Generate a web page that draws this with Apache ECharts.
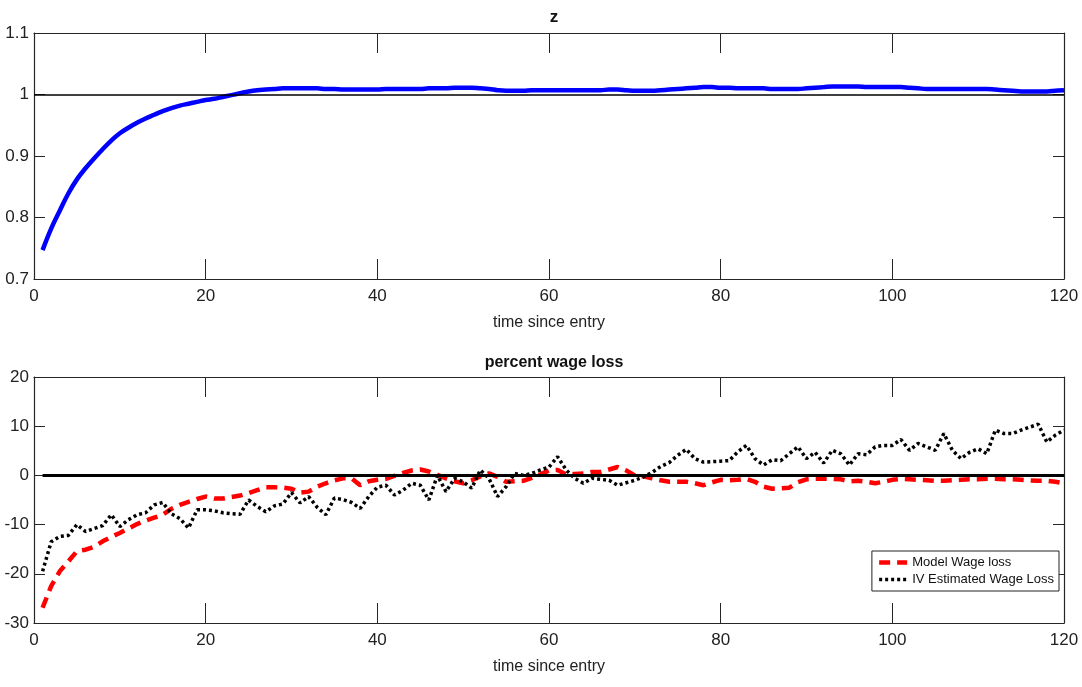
<!DOCTYPE html>
<html>
<head>
<meta charset="utf-8">
<script src="https://cdn.jsdelivr.net/npm/echarts@6/dist/echarts.min.js"></script>
<style>
html,body{margin:0;padding:0;background:#fff;}
#chart{width:1082px;height:687px;}
</style>
</head>
<body>
<div id="chart"></div>
<script>
// ---- data ----
var periods = [];
for (var i = 1; i <= 120; i++) periods.push(i);

var zValues = [
0.747,0.782,0.811,0.839,0.862,0.880,0.896,0.911,0.925,0.937,
0.946,0.954,0.961,0.967,0.973,0.978,0.982,0.985,0.988,0.991,
0.993,0.996,0.999,1.002,1.005,1.007,1.008,1.009,1.010,1.010,
1.010,1.010,1.010,1.009,1.009,1.008,1.008,1.008,1.008,1.008,
1.009,1.009,1.009,1.009,1.009,1.010,1.010,1.010,1.011,1.011,
1.011,1.010,1.009,1.007,1.006,1.006,1.006,1.007,1.007,1.007,
1.007,1.007,1.007,1.007,1.007,1.007,1.008,1.008,1.007,1.006,
1.006,1.006,1.007,1.008,1.009,1.010,1.011,1.012,1.012,1.011,
1.011,1.010,1.010,1.010,1.010,1.009,1.009,1.009,1.009,1.010,
1.011,1.012,1.013,1.013,1.013,1.013,1.012,1.012,1.012,1.012,
1.012,1.011,1.010,1.009,1.009,1.009,1.009,1.009,1.009,1.009,
1.009,1.008,1.007,1.006,1.005,1.005,1.005,1.005,1.006,1.007
];

var modelWageLoss = [
-26.9,-22.5,-19.5,-17.5,-15.4,-15.1,-14.5,-13.4,-12.5,-11.7,
-10.8,-9.9,-9.2,-8.6,-8.0,-6.8,-6.0,-5.4,-4.8,-4.3,
-4.7,-4.7,-4.4,-4.1,-3.6,-3.0,-2.4,-2.4,-2.5,-2.7,
-3.5,-3.3,-2.3,-1.6,-1.0,-0.6,-0.6,-2.0,-1.2,-0.9,
-0.7,-0.1,0.5,1.0,1.2,0.8,0.1,-0.6,-1.2,-1.6,
-1.0,-0.2,0.4,-0.3,-1.3,-1.2,-1.1,-0.5,0.2,1.0,
1.1,0.2,0.3,0.4,0.7,0.7,1.2,1.7,1.0,0.0,
-0.2,-0.6,-1.0,-1.3,-1.3,-1.3,-1.6,-2.0,-1.4,-0.9,
-1.0,-0.9,-0.7,-1.3,-2.3,-2.7,-2.6,-2.5,-1.4,-0.8,
-0.7,-0.7,-0.7,-0.8,-1.2,-1.1,-1.3,-1.6,-1.3,-0.9,
-0.7,-0.8,-0.9,-1.0,-1.1,-1.1,-1.0,-0.9,-0.8,-0.8,
-0.7,-0.7,-0.8,-0.8,-0.9,-1.0,-1.1,-1.1,-1.3,-1.6
];

var ivWageLoss = [
-19.5,-13.5,-12.4,-12.2,-10.0,-11.4,-10.8,-10.2,-8.0,-10.4,
-9.0,-8.0,-7.6,-6.0,-5.5,-7.8,-8.8,-10.7,-7.0,-7.0,
-7.2,-7.6,-7.8,-7.9,-5.0,-6.3,-7.4,-6.2,-5.8,-3.5,
-5.6,-4.3,-6.5,-8.0,-4.6,-4.9,-5.5,-6.7,-4.3,-2.4,
-2.0,-4.0,-3.0,-1.6,-2.0,-5.0,0.0,-3.3,-0.6,-1.3,
-2.6,1.1,-0.6,-4.3,-2.3,0.4,0.0,0.4,1.1,1.7,
3.8,1.1,-0.6,-1.6,-0.6,-0.8,-1.0,-2.0,-1.5,-1.0,
-0.3,0.6,1.8,2.6,4.1,5.3,3.4,2.7,2.8,2.9,
3.0,4.8,6.1,3.4,2.1,3.2,3.0,4.4,5.8,3.4,
4.7,2.5,5.1,4.4,2.1,4.4,4.2,5.8,6.1,6.1,
7.3,5.1,6.5,5.8,5.1,8.5,5.1,3.4,4.7,5.4,
4.4,9.2,8.5,8.5,9.2,9.8,10.4,6.8,8.2,9.2
];

var xTicks = {min: 0, max: 120, interval: 20};
var zTicks = {min: 0.7, max: 1.1, interval: 0.1};
var wTicks = {min: -30, max: 20, interval: 10};

function pairs(xs, ys) { return xs.map(function (x, i) { return [x, ys[i]]; }); }

// ---- chart ----
var FONT = '"Liberation Sans Narrow", "Liberation Sans", Arial, sans-serif';
var AX = '#262626';
var chart = echarts.init(document.getElementById('chart'), null, {renderer: 'canvas'});

function xAxisDef(gridIndex, bottom) {
  var a = {
    type: 'value', gridIndex: gridIndex, min: xTicks.min, max: xTicks.max, interval: xTicks.interval,
    position: bottom ? 'bottom' : 'top',
    axisLine: {show: true, onZero: false, lineStyle: {color: AX, width: 1.2}},
    axisTick: {show: true, inside: true, length: 20, lineStyle: {color: AX, width: 1}},
    splitLine: {show: false},
    axisLabel: {show: bottom, color: '#222', fontFamily: FONT, fontSize: 17, margin: 9}
  };
  if (bottom) {
    a.name = 'time since entry';
    a.nameLocation = 'middle';
    a.nameGap = 36;
    a.nameTextStyle = {color: '#222', fontFamily: FONT, fontSize: 16};
  }
  return a;
}
function yAxisDef(gridIndex, t, left, fmt) {
  return {
    type: 'value', gridIndex: gridIndex, min: t.min, max: t.max, interval: t.interval,
    position: left ? 'left' : 'right',
    axisLine: {show: true, onZero: false, lineStyle: {color: AX, width: 1.2}},
    axisTick: {show: true, inside: true, length: 11, lineStyle: {color: AX, width: 1}},
    splitLine: {show: false},
    axisLabel: {show: left, color: '#222', fontFamily: FONT, fontSize: 17, margin: 5, formatter: fmt}
  };
}
var fmtZ = function (v) { return String(Math.round(v * 10) / 10); };
var fmtW = function (v) { return String(Math.round(v)); };

var option = {
  animation: false,
  backgroundColor: '#fff',
  title: [
    {text: 'z', left: 549, top: 4, textAlign: 'center',
     textStyle: {fontFamily: FONT, fontSize: 17, fontWeight: 'bold', color: '#111'}},
    {text: 'percent wage loss', left: 549, top: 350, textAlign: 'center',
     textStyle: {fontFamily: FONT, fontSize: 16, fontWeight: 'bold', color: '#111'}}
  ],
  grid: [
    {left: 34, right: 18, top: 33, height: 246, show: false},
    {left: 34, right: 18, top: 377, height: 246, show: false}
  ],
  xAxis: [xAxisDef(0, true), xAxisDef(0, false), xAxisDef(1, true), xAxisDef(1, false)],
  yAxis: [yAxisDef(0, zTicks, true, fmtZ), yAxisDef(0, zTicks, false, fmtZ),
          yAxisDef(1, wTicks, true, fmtW), yAxisDef(1, wTicks, false, fmtW)],
  legend: {
    orient: 'vertical', right: 23, top: 551,
    padding: [5, 5, 5, 5], itemGap: 4, itemWidth: 28, itemHeight: 14,
    borderColor: '#222', borderWidth: 1, backgroundColor: '#fff',
    itemStyle: {opacity: 0},
    textStyle: {fontFamily: FONT, fontSize: 13, color: '#111'},
    data: [
      {name: 'Model Wage loss', lineStyle: {width: 4.5}},
      {name: 'IV Estimated Wage Loss', lineStyle: {width: 3.5}}
    ]
  },
  series: [
    {
      name: 'z', type: 'line', xAxisIndex: 0, yAxisIndex: 0,
      data: pairs(periods, zValues), showSymbol: false, symbol: 'none', smooth: 0.4,
      lineStyle: {color: '#0000ff', width: 4.5},
      markLine: {
        silent: true, symbol: 'none', label: {show: false},
        lineStyle: {color: '#000', width: 1.6, type: 'solid'},
        data: [{yAxis: 1}]
      },
      z: 3
    },
    {
      name: 'Model Wage loss', type: 'line', xAxisIndex: 2, yAxisIndex: 2,
      data: pairs(periods, modelWageLoss), showSymbol: false, symbol: 'none',
      itemStyle: {color: '#ff0000'},
      lineStyle: {color: '#ff0000', width: 4.5, type: [11, 7]},
      markLine: {
        silent: true, symbol: 'none', label: {show: false},
        lineStyle: {color: '#000', width: 3, type: 'solid'},
        data: [[{coord: [1, 0]}, {coord: [120, 0]}]]
      },
      z: 3
    },
    {
      name: 'IV Estimated Wage Loss', type: 'line', xAxisIndex: 2, yAxisIndex: 2,
      data: pairs(periods, ivWageLoss), showSymbol: false, symbol: 'none',
      itemStyle: {color: '#000'},
      lineStyle: {color: '#000', width: 3.5, type: [3, 3]},
      z: 4
    }
  ]
};
chart.setOption(option);
</script>
</body>
</html>
